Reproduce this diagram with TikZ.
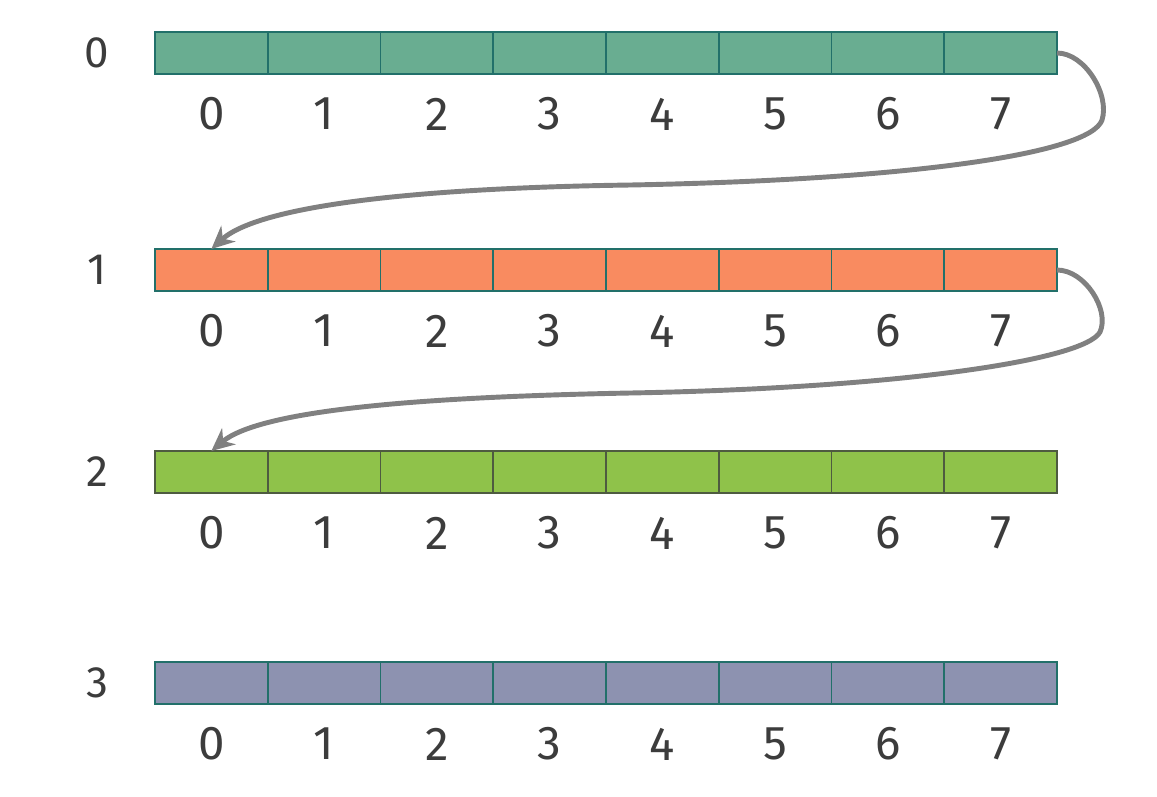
\documentclass[tikz,border=0pt]{standalone}
\usepackage{fontspec}
\setmainfont{Fira Sans}
\usetikzlibrary{arrows.meta}
\definecolor{cteal}{HTML}{69AD91}
\definecolor{corange}{HTML}{F98B60}
\definecolor{cgreen}{HTML}{8FC24A}
\definecolor{cpurple}{HTML}{8D92B0}
\definecolor{bteal}{HTML}{22706A}
\definecolor{bgreen}{HTML}{4E5B40}
\definecolor{txt}{HTML}{3C3C3C}
\definecolor{arr}{HTML}{808080}
\tikzset{
  cell/.style={draw, line width=1.1pt, minimum width=2.255cm, minimum height=0.84cm, inner sep=0pt, outer sep=0pt, anchor=north west},
  idx/.style={text=txt, font=\fontsize{27}{30}\selectfont, inner sep=0pt},
  rowlab/.style={text=txt, font=\fontsize{25}{28}\selectfont, inner sep=0pt},
  link/.style={draw=arr, line width=2.8pt, -{Stealth[length=13pt,width=12pt]}}
}
\begin{document}
\begin{tikzpicture}[x=0.02cm,y=-0.02cm]
\useasboundingbox (0,0) rectangle (1157,796);
\foreach \r/\top/\fc/\bc in {0/32/cteal/bteal,1/249/corange/bteal,2/451/cgreen/bgreen,3/662/cpurple/bteal}{
  \node[rowlab] (lab\r) at (97,\top+21) {\r};
  \foreach \c in {0,...,7}{
    \node[cell, fill=\fc, draw=\bc] (r\r c\c) at ({155+112.75*\c},\top) {};
    \node[idx] (i\r c\c) at ({155+112.75*\c+56.4},\top+82) {\c};
  }
}
\draw[link] (r0c7.east) .. controls (1085,53) and (1110,95) .. (1102,120)
  .. controls (1090,155) and (900,180) .. (630,185)
  .. controls (420,188) and (260,205) .. (r1c0.north);
\draw[link] (r1c7.east) .. controls (1085,270) and (1110,310) .. (1100,332)
  .. controls (1085,360) and (900,388) .. (630,393)
  .. controls (420,397) and (260,410) .. (r2c0.north);
\end{tikzpicture}
\end{document}
